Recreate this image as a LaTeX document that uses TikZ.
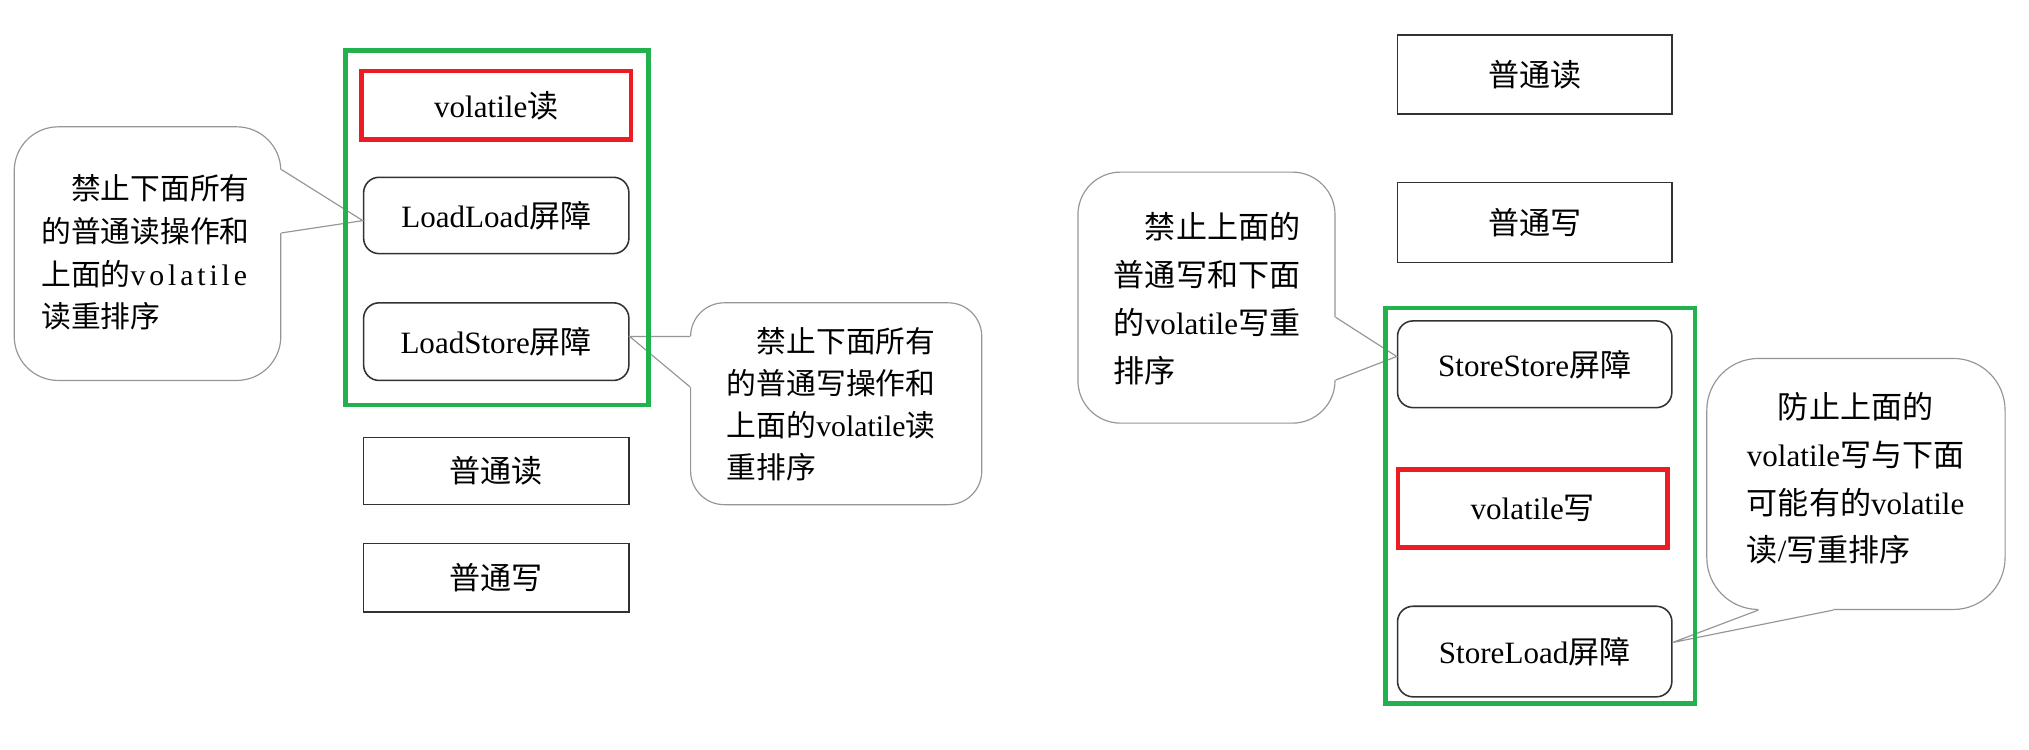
\documentclass[tikz,border=0pt]{standalone}
\usepackage{fontspec}
\setmainfont{Liberation Serif}
\newfontfamily\cjk{Noto Sans CJK SC}
\newfontfamily\spacedlatin[LetterSpace=13]{Liberation Serif}
\newcommand\zh[1]{{\cjk #1}}
\definecolor{mygreen}{RGB}{34,177,76}
\definecolor{myred}{RGB}{237,28,36}
\definecolor{callgray}{RGB}{150,150,150}
\definecolor{boxgray}{RGB}{50,50,50}
\tikzset{
  plainbox/.style={draw=boxgray, line width=1.2pt, inner sep=0pt, minimum width=205pt,
    font=\fontsize{24}{28}\selectfont},
  roundbox/.style={plainbox, rounded corners=12pt},
  redbox/.style={plainbox, draw=myred, line width=3.5pt},
  greenframe/.style={draw=mygreen, line width=3.6pt},
  calloutbox/.style={draw=callgray, line width=0.9pt, inner sep=0pt},
  calloutline/.style={draw=callgray, line width=0.9pt},
  cover/.style={fill=white, draw=none},
  calltext/.style={inner sep=0pt, anchor=north west, align=left},
}
\begin{document}
\begin{tikzpicture}[x=1pt,y=-1pt]
\useasboundingbox (0,0) rectangle (1568,579);
\fill[white] (0,0) rectangle (1568,579);

% ---------- left group ----------
\node[calloutbox, rounded corners=34pt, minimum width=206pt, minimum height=196pt] (c1) at (114,196) {};
\node[calloutbox, rounded corners=26pt, minimum width=225pt, minimum height=156pt] (c2) at (646.2,312) {};

\node[redbox, minimum width=208pt, minimum height=53pt] (vr) at (383.5,81.5) {volatile\zh{读}};
\node[roundbox, minimum height=59pt] (ll) at (383.5,166.5) {LoadLoad\zh{屏障}};
\node[roundbox, minimum height=60pt] (ls) at (383.5,264) {LoadStore\zh{屏障}};
\node[plainbox, minimum height=52pt] (r1) at (383.5,364) {\zh{普通读}};
\node[plainbox, minimum height=53pt] (w1) at (383.5,446.5) {\zh{普通写}};

% pointer of c1 -> ll
\coordinate (c1a) at ([yshift=65pt]c1.east);
\coordinate (c1b) at ([yshift=16pt]c1.east);
\coordinate (c1t) at ([yshift=-4pt]ll.west);
\fill[cover] (c1a) -- (c1t) -- (c1b) -- ([xshift=-2pt]c1b) -- ([xshift=-2pt]c1a) -- cycle;
\draw[calloutline] (c1a) -- (c1t) -- (c1b);

% pointer of c2 -> ls
\coordinate (c2a) at ([yshift=52pt]c2.west);
\coordinate (c2b) at ([yshift=13pt]c2.west);
\coordinate (c2t) at ([yshift=4pt]ls.east);
\fill[cover] (c2a) -- (c2t) -- (c2b) -- ([xshift=2pt]c2b) -- ([xshift=2pt]c2a) -- cycle;
\draw[calloutline] (c2a) -- (c2t) -- (c2b);

\node[calltext, font=\fontsize{23}{33.1}\selectfont] (t1) at (31.8,134.5)
  {\hspace*{1em}\zh{禁止下面所有}\\\zh{的普通读操作和}\\\zh{上面的}{\spacedlatin volatile}\\\zh{读重排序}};
\node[calltext, font=\fontsize{23}{32.5}\selectfont] (t2) at (561.6,253)
  {\hspace*{1em}\zh{禁止下面所有}\\\zh{的普通写操作和}\\\zh{上面的}volatile\zh{读}\\\zh{重排序}};

\draw[greenframe] (267,39) rectangle (501,313);

% ---------- right group ----------
\node[calloutbox, rounded corners=33pt, minimum width=198.7pt, minimum height=194pt] (c3) at (932.35,230) {};
\node[calloutbox, rounded corners=40pt, minimum width=230.5pt, minimum height=194pt] (c4) at (1434.25,374) {};

\node[plainbox, minimum width=212pt, minimum height=61pt] (r2) at (1186,57.5) {\zh{普通读}};
\node[plainbox, minimum width=212pt, minimum height=62pt] (w2) at (1186,172) {\zh{普通写}};
\node[roundbox, minimum width=212pt, minimum height=67pt] (ss) at (1186,281.5) {StoreStore\zh{屏障}};
\node[redbox, minimum width=208pt, minimum height=60pt] (vw) at (1184.5,393) {volatile\zh{写}};
\node[roundbox, minimum width=212pt, minimum height=70pt] (sl) at (1186,503.5) {StoreLoad\zh{屏障}};

% pointer of c3 -> ss
\coordinate (c3a) at ([yshift=-15.2pt]c3.east);
\coordinate (c3b) at ([yshift=-63.7pt]c3.east);
\coordinate (c3t) at ([yshift=6pt]ss.west);
\fill[cover] (c3a) -- (c3t) -- (c3b) -- ([xshift=-2pt]c3b) -- ([xshift=-2pt]c3a) -- cycle;
\draw[calloutline] (c3a) -- (c3t) -- (c3b);

% pointer of c4 -> sl
\coordinate (c4a) at ([xshift=-75.35pt]c4.south);
\coordinate (c4b) at ([xshift=-17.45pt]c4.south);
\coordinate (c4t) at ([yshift=7pt]sl.east);
\fill[cover] (c4a) -- (c4t) -- (c4b) -- ([yshift=2pt]c4b) -- ([yshift=2pt]c4a) -- cycle;
\draw[calloutline] (c4a) -- (c4t) -- (c4b);

\node[calltext, font=\fontsize{24}{37.3}\selectfont] (t3) at (860.6,163.5)
  {\hspace*{1em}\zh{禁止上面的}\\\zh{普通写和下面}\\\zh{的}volatile\zh{写重}\\\zh{排序}};
\node[calltext, font=\fontsize{24}{37}\selectfont] (t4) at (1349.8,302.8)
  {\hspace*{1em}\zh{防止上面的}\\volatile\zh{写与下面}\\\zh{可能有的}volatile\\\zh{读}/\zh{写重排序}};

\draw[greenframe] (1070.5,238) rectangle (1310,543.5);
\end{tikzpicture}
\end{document}
